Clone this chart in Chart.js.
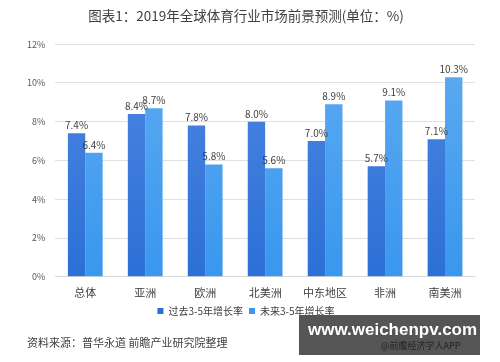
<!DOCTYPE html>
<html>
<head>
<meta charset="utf-8">
<script src="https://cdn.jsdelivr.net/npm/chart.js@4/dist/chart.umd.min.js"></script>
<style>
  html, body { margin: 0; padding: 0; background: #fff; }
  #wrap { position: relative; width: 500px; height: 362px; }
  #source { position: absolute; left: 27px; top: 334px; font: 11px "Noto Sans CJK SC", sans-serif; color: #404040; }
  #mark { position: absolute; left: 299px; top: 315px; width: 181px; height: 40px; background: #555; }
  #mark span { position: absolute; left: 9px; top: 5px; font: bold 17px "Liberation Sans", Arial, sans-serif; color: #fff; }
  #mark em { position: absolute; left: 82px; top: 24px; font: normal 9px "Noto Sans CJK SC", sans-serif; color: #222; font-style: normal; }
</style>
</head>
<body>
<div id="wrap">
  <canvas id="myCanvasPrevisao" width="500" height="362"></canvas>
  <div id="source">资料来源：普华永道 前瞻产业研究院整理</div>
  <div id="mark"><span>www.weichenpv.com</span><em>@前瞻经济学人APP</em></div>
</div>
<script>
var categorias = ['总体', '亚洲', '欧洲', '北美洲', '中东地区', '非洲', '南美洲'];
var passado = [7.4, 8.4, 7.8, 8.0, 7.0, 5.7, 7.1];
var futuro = [6.4, 8.7, 5.8, 5.6, 8.9, 9.1, 10.3];
var nomesSeries = ['过去3-5年增长率', '未来3-5年增长率'];

var fonte = '"Noto Sans CJK SC", "Noto Sans", sans-serif';

var gradiente = function(ctx, topo, base) {
    var area = ctx.chart.chartArea;
    if (!area) return base;
    var g = ctx.chart.ctx.createLinearGradient(0, area.top, 0, area.bottom);
    g.addColorStop(0, topo);
    g.addColorStop(1, base);
    return g;
};

var rotulos = {
    id: 'rotulos',
    afterDatasetsDraw: function(chart) {
        var c = chart.ctx;
        c.save();
        c.font = '10px ' + fonte;
        c.fillStyle = '#404040';
        c.textAlign = 'center';
        c.textBaseline = 'bottom';
        chart.data.datasets.forEach(function(ds, i) {
            chart.getDatasetMeta(i).data.forEach(function(el, j) {
                c.fillText(ds.data[j].toFixed(1) + '%', el.x, el.y - 3);
            });
        });
        c.restore();
    }
};

new Chart(document.getElementById('myCanvasPrevisao'), {
    type: 'bar',
    data: {
        labels: categorias,
        datasets: [{
            label: nomesSeries[0],
            data: passado,
            backgroundColor: function(ctx) { return gradiente(ctx, '#4d88e2', '#2c6fd6'); },
            categoryPercentage: 0.58,
            barPercentage: 1.0
        }, {
            label: nomesSeries[1],
            data: futuro,
            backgroundColor: function(ctx) { return gradiente(ctx, '#5eabf1', '#3997ee'); },
            categoryPercentage: 0.58,
            barPercentage: 1.0
        }]
    },
    options: {
        responsive: false,
        animation: false,
        layout: { padding: { left: 17, right: 25, top: 0, bottom: 36 } },
        plugins: {
            title: {
                display: true,
                text: '图表1：2019年全球体育行业市场前景预测(单位：%)',
                color: '#404040',
                font: { family: fonte, size: 13.5, weight: 'normal' },
                padding: { top: 8, bottom: 20 }
            },
            legend: {
                position: 'bottom',
                labels: {
                    color: '#404040',
                    font: { family: fonte, size: 10 },
                    boxWidth: 6,
                    boxHeight: 6,
                    padding: 6
                }
            },
            tooltip: { enabled: false }
        },
        scales: {
            x: {
                grid: { display: false },
                border: { color: '#d9d9d9' },
                ticks: { color: '#404040', font: { family: fonte, size: 11 }, padding: 1 }
            },
            y: {
                min: 0,
                max: 12,
                ticks: {
                    stepSize: 2,
                    color: '#595959',
                    font: { family: fonte, size: 9 },
                    padding: 10,
                    callback: function(v) { return v + '%'; }
                },
                grid: { color: '#e0e0e0', drawTicks: false },
                border: { display: false }
            }
        }
    },
    plugins: [rotulos]
});
</script>
</body>
</html>
